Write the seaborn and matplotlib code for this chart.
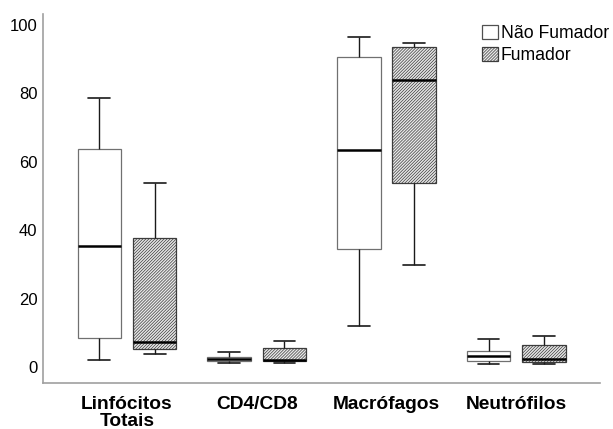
import numpy as np
import pandas as pd
import seaborn as sns
import matplotlib.pyplot as plt
from matplotlib.patches import Patch

# Cell types on the x axis and the two smoking groups
categories = ["Linfócitos\nTotais", "CD4/CD8", "Macrófagos", "Neutrófilos"]
groups = ["Não Fumador", "Fumador"]

# Five-number summaries per cell type: [min, Q1, median, Q3, max]
nao_fumador = [
    [2.0, 8.5, 35.4, 63.7, 78.7],
    [1.2, 1.6, 2.2, 3.0, 4.3],
    [12.0, 34.5, 63.5, 90.7, 96.6],
    [0.9, 1.8, 3.2, 4.8, 8.3],
]
fumador = [
    [3.8, 5.3, 7.3, 37.7, 53.8],
    [1.1, 1.6, 2.0, 5.4, 7.7],
    [29.8, 53.7, 83.9, 93.6, 94.6],
    [0.9, 1.3, 2.4, 6.4, 8.9],
]

y_ticks = [0, 20, 40, 60, 80, 100]

rows = []
for cat, nf, f in zip(categories, nao_fumador, fumador):
    for v in nf:
        rows.append({"Tipo": cat, "Grupo": groups[0], "Valor": v})
    for v in f:
        rows.append({"Tipo": cat, "Grupo": groups[1], "Valor": v})
df = pd.DataFrame(rows)

sns.set_theme(style="white")
plt.rcParams["font.family"] = ["Liberation Sans", "DejaVu Sans"]
plt.rcParams["hatch.linewidth"] = 0.5
plt.rcParams["text.color"] = "black"
plt.rcParams["xtick.color"] = "black"
plt.rcParams["ytick.color"] = "black"

fig = plt.figure(figsize=(6.13, 4.29), dpi=100)
ax = fig.add_axes([0.0701, 0.1072, 0.9089, 0.8602])

fill_nf = "#ffffff"
fill_f = "#e8e8e8"
hatch = "/" * 11

sns.boxplot(
    data=df, x="Tipo", y="Valor", hue="Grupo",
    order=categories, hue_order=groups,
    palette={groups[0]: fill_nf, groups[1]: fill_f},
    width=0.854, gap=0.215, whis=np.inf,
    linewidth=0.9, linecolor="#1a1a1a",
    boxprops=dict(edgecolor="#707070", linewidth=0.9),
    whiskerprops=dict(color="#1a1a1a", linewidth=1.0),
    capprops=dict(color="#1a1a1a", linewidth=1.2),
    medianprops=dict(color="#000000", linewidth=1.8),
    legend=False, ax=ax,
)

# Hatch the smoker boxes
for p in ax.patches:
    fc = p.get_facecolor()
    if abs(fc[0] - 0xe8 / 255) < 0.02:
        p.set_hatch(hatch)
        p.set_edgecolor("#3c3c3c")
        p.set_linewidth(0.9)
        p.set_zorder(1.5)

ax.set_xlim(-0.648, 3.647)
ax.set_ylim(-4.7, 103.2)
ax.set_yticks(y_ticks)
ax.set_yticklabels([str(t) for t in y_ticks], fontsize=12)
ax.set_xticks(range(len(categories)))
ax.set_xticklabels(categories, fontsize=13.8, fontweight="bold", linespacing=1.0)
ax.tick_params(axis="both", length=0)
ax.tick_params(axis="x", pad=9.5)
ax.tick_params(axis="y", pad=4)
ax.set_xlabel("")
ax.set_ylabel("")

for side in ["top", "right"]:
    ax.spines[side].set_visible(False)
for side in ["left", "bottom"]:
    ax.spines[side].set_color("#a0a0a0")
    ax.spines[side].set_linewidth(1.2)

handles = [
    Patch(facecolor=fill_nf, edgecolor="#505050", linewidth=0.9, label=groups[0]),
    Patch(facecolor=fill_f, edgecolor="#3c3c3c", linewidth=0.9, hatch=hatch, label=groups[1]),
]
ax.legend(
    handles=handles, loc="upper left", bbox_to_anchor=(0.776, 0.99),
    frameon=False, fontsize=12.7, handlelength=0.9, handleheight=0.9,
    handletextpad=0.15, labelspacing=0.25, borderaxespad=0,
)

fig.savefig("out.png", dpi=100)
